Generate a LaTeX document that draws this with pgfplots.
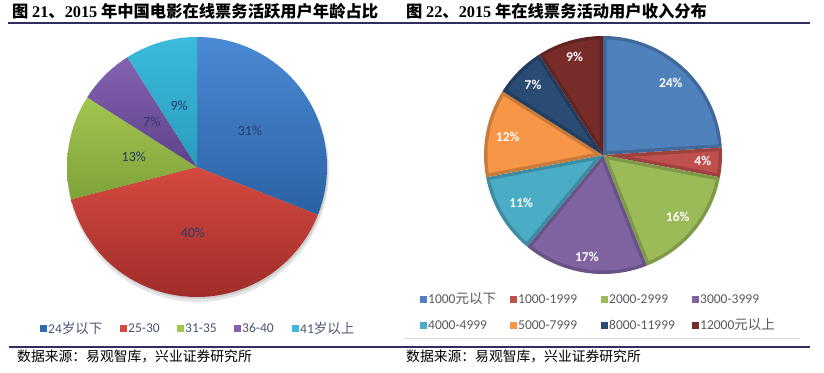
\documentclass[border=0pt]{standalone}
\usepackage{pgfplots}
\pgfplotsset{compat=1.18}
\usepackage{fontspec}
\setmainfont{Carlito}
\newfontfamily\cjk{Noto Sans CJK SC}
\newfontfamily\tnr{Liberation Serif}
% left pie colours (top / bottom of gradient)
\definecolor{lbT}{HTML}{4A8AD4}\definecolor{lbB}{HTML}{2C62A4}
\definecolor{lrT}{HTML}{D44A40}\definecolor{lrB}{HTML}{A02D2A}
\definecolor{lgT}{HTML}{A2C550}\definecolor{lgB}{HTML}{7EA23A}
\definecolor{lpT}{HTML}{8462B2}\definecolor{lpB}{HTML}{5F4288}
\definecolor{ltT}{HTML}{3ABADC}\definecolor{ltB}{HTML}{2A9CBE}
% right pie colours
\definecolor{rb}{HTML}{4F81BD}\definecolor{rr}{HTML}{C0504D}
\definecolor{rg}{HTML}{9BBB59}\definecolor{rp}{HTML}{8064A2}
\definecolor{rt}{HTML}{4BACC6}\definecolor{ro}{HTML}{F79646}
\definecolor{rn}{HTML}{2A4B73}\definecolor{rd}{HTML}{772C2A}
\definecolor{rule}{HTML}{2E2E62}
\definecolor{lbl}{HTML}{2A3A6A}
\definecolor{legl}{HTML}{4A5472}
\definecolor{legr}{HTML}{595959}

% plain slice: cx cy R start% end% options
\newcommand\slice[6]{%
  \pgfmathsetmacro\aS{90-3.6*#4}%
  \pgfmathsetmacro\aE{90-3.6*#5}%
  \edef\doit{\noexpand\addplot[\unexpanded{#6}, domain=\aE:\aS, samples=90]
    ({#1+#3*cos(x)},{#2-#3*sin(x)}) -- (#1,#2) -- cycle;}%
  \doit}
% inset slice: cx cy R d start% end% colour
\newcommand\islice[7]{%
  \pgfmathsetmacro\aS{90-3.6*#5}%
  \pgfmathsetmacro\aE{90-3.6*#6}%
  \pgfmathsetmacro\rr{#3-#4}%
  \pgfmathsetmacro\dl{asin(#4/\rr)}%
  \pgfmathsetmacro\am{(\aS+\aE)/2}%
  \pgfmathsetmacro\pd{#4/sin((\aS-\aE)/2)}%
  \pgfmathsetmacro\px{#1+\pd*cos(\am)}%
  \pgfmathsetmacro\py{#2-\pd*sin(\am)}%
  \pgfmathsetmacro\lo{\aE+\dl}%
  \pgfmathsetmacro\hi{\aS-\dl}%
  \edef\doit{\noexpand\addplot[fill=#7, draw=none, domain=\lo:\hi, samples=90]
    ({#1+\rr*cos(x)},{#2-\rr*sin(x)}) -- (\px,\py) -- cycle;}%
  \doit}
% label: cx cy r start% end% style text
\newcommand\plabel[7]{%
  \pgfmathsetmacro\am{90-3.6*(#4+#5)/2}%
  \pgfmathsetmacro\px{#1+#3*cos(\am)}%
  \pgfmathsetmacro\py{#2-#3*sin(\am)}%
  \edef\doit{\noexpand\node[\unexpanded{#6}] at (axis cs:\px,\py) {\unexpanded{#7}};}%
  \doit}
% legend entry: x y colour text-colour text
\newcommand\legent[5]{%
  \addplot[only marks, mark=square*, mark size=3.3pt, color=#3] coordinates {(#1,#2)};
  \node[anchor=west, inner sep=0pt, text=#4, font=\fontsize{13.5}{14}\selectfont] at (axis cs:#1+5,#2) {#5};}

\begin{document}
\begin{tikzpicture}
\begin{axis}[
  width=824pt, height=372pt, scale only axis,
  xmin=0, xmax=824, ymin=0, ymax=372, y dir=reverse,
  hide axis, clip=false]
\addplot[draw=none] coordinates {(0,0) (824,372)};

% rules
\draw[rule, line width=2.4pt] (axis cs:8,23) -- (axis cs:810,23);
\draw[rule, line width=2.2pt] (axis cs:9,347) -- (axis cs:810,347);
\draw[gray!30, line width=0.8pt] (axis cs:404,338) -- (axis cs:800,338);

% titles
\node[anchor=west, inner sep=0pt, font=\fontsize{16.3}{17}\selectfont] at (axis cs:12,11)
  {{\cjk\bfseries 图}\ {\tnr\bfseries 21}{\cjk\bfseries 、}{\tnr\bfseries 2015}\ {\cjk\bfseries 年中国电影在线票务活跃用户年龄占比}};
\node[anchor=west, inner sep=0pt, font=\fontsize{16.3}{17}\selectfont] at (axis cs:406,11)
  {{\cjk\bfseries 图}\ {\tnr\bfseries 22}{\cjk\bfseries 、}{\tnr\bfseries 2015}\ {\cjk\bfseries 年在线票务活动用户收入分布}};

% sources
\node[anchor=west, inner sep=0pt, font=\fontsize{13.8}{14}\selectfont] at (axis cs:17,356) {\cjk 数据来源：易观智库，兴业证券研究所};
\node[anchor=west, inner sep=0pt, font=\fontsize{13.8}{14}\selectfont] at (axis cs:406,356) {\cjk 数据来源：易观智库，兴业证券研究所};

% ---------- left pie: age ----------
\addplot[fill=black, opacity=0.10, draw=none, domain=0:360, samples=120] ({198+131*cos(x)},{171-131*sin(x)}) -- cycle;
\addplot[fill=black, opacity=0.10, draw=none, domain=0:360, samples=120] ({198+130*cos(x)},{169-130*sin(x)}) -- cycle;
\slice{197}{167}{130}{0}{31}{draw=none, top color=lbT, bottom color=lbB}
\slice{197}{167}{130}{31}{71}{draw=none, top color=lrT, bottom color=lrB}
\slice{197}{167}{130}{71}{84}{draw=none, top color=lgT, bottom color=lgB}
\slice{197}{167}{130}{84}{91}{draw=none, top color=lpT, bottom color=lpB}
\slice{197}{167}{130}{91}{100}{draw=none, top color=ltT, bottom color=ltB}
\plabel{197}{167}{64}{0}{31}{text=lbl, font=\fontsize{14}{14}\selectfont}{31\%}
\plabel{197}{167}{66}{31}{71}{text=lbl, font=\fontsize{14}{14}\selectfont}{40\%}
\plabel{197}{167}{64}{71}{84}{text=lbl, font=\fontsize{14}{14}\selectfont}{13\%}
\plabel{197}{167}{64}{84}{91}{text=lbl, font=\fontsize{14}{14}\selectfont}{7\%}
\plabel{197}{167}{64}{91}{100}{text=lbl, font=\fontsize{14}{14}\selectfont}{9\%}

\legent{43}{328}{lbB!80!lbT}{legl}{24{\cjk 岁以下}}
\legent{123}{328}{lrT}{legl}{25-30}
\legent{180}{328}{lgT}{legl}{31-35}
\legent{237}{328}{lpT}{legl}{36-40}
\legent{295}{328}{ltT}{legl}{41{\cjk 岁以上}}

% ---------- right pie: income ----------
\slice{603}{155}{119}{0}{24}{draw=none, fill=rb!82!black}
\slice{603}{155}{119}{24}{28}{draw=none, fill=rr!82!black}
\slice{603}{155}{119}{28}{44}{draw=none, fill=rg!82!black}
\slice{603}{155}{119}{44}{61}{draw=none, fill=rp!82!black}
\slice{603}{155}{119}{61}{72}{draw=none, fill=rt!82!black}
\slice{603}{155}{119}{72}{84}{draw=none, fill=ro!82!black}
\slice{603}{155}{119}{84}{91}{draw=none, fill=rn!82!black}
\slice{603}{155}{119}{91}{100}{draw=none, fill=rd!82!black}
\islice{603}{155}{119}{3.5}{0}{24}{rb}
\islice{603}{155}{119}{3.5}{24}{28}{rr}
\islice{603}{155}{119}{3.5}{28}{44}{rg}
\islice{603}{155}{119}{3.5}{44}{61}{rp}
\islice{603}{155}{119}{3.5}{61}{72}{rt}
\islice{603}{155}{119}{3.5}{72}{84}{ro}
\islice{603}{155}{119}{3.5}{84}{91}{rn}
\islice{603}{155}{119}{3.5}{91}{100}{rd}
\plabel{603}{155}{99}{0}{24}{text=white, font=\bfseries\fontsize{13.5}{14}\selectfont}{24\%}
\plabel{603}{155}{100}{24}{28}{text=white, font=\bfseries\fontsize{13.5}{14}\selectfont}{4\%}
\plabel{603}{155}{97}{28}{44}{text=white, font=\bfseries\fontsize{13.5}{14}\selectfont}{16\%}
\plabel{603}{155}{103}{44}{61}{text=white, font=\bfseries\fontsize{13.5}{14}\selectfont}{17\%}
\plabel{603}{155}{95}{61}{72}{text=white, font=\bfseries\fontsize{13.5}{14}\selectfont}{11\%}
\plabel{603}{155}{97}{72}{84}{text=white, font=\bfseries\fontsize{13.5}{14}\selectfont}{12\%}
\plabel{603}{155}{99}{84}{91}{text=white, font=\bfseries\fontsize{13.5}{14}\selectfont}{7\%}
\plabel{603}{155}{102}{91}{100}{text=white, font=\bfseries\fontsize{13.5}{14}\selectfont}{9\%}

\legent{423}{299}{rb}{legr}{1000{\cjk 元以下}}
\legent{513}{299}{rr}{legr}{1000-1999}
\legent{604}{299}{rg}{legr}{2000-2999}
\legent{695}{299}{rp}{legr}{3000-3999}
\legent{423}{325}{rt}{legr}{4000-4999}
\legent{513}{325}{ro}{legr}{5000-7999}
\legent{604}{325}{rn}{legr}{8000-11999}
\legent{695}{325}{rd}{legr}{12000{\cjk 元以上}}
\end{axis}
\end{tikzpicture}
\end{document}
